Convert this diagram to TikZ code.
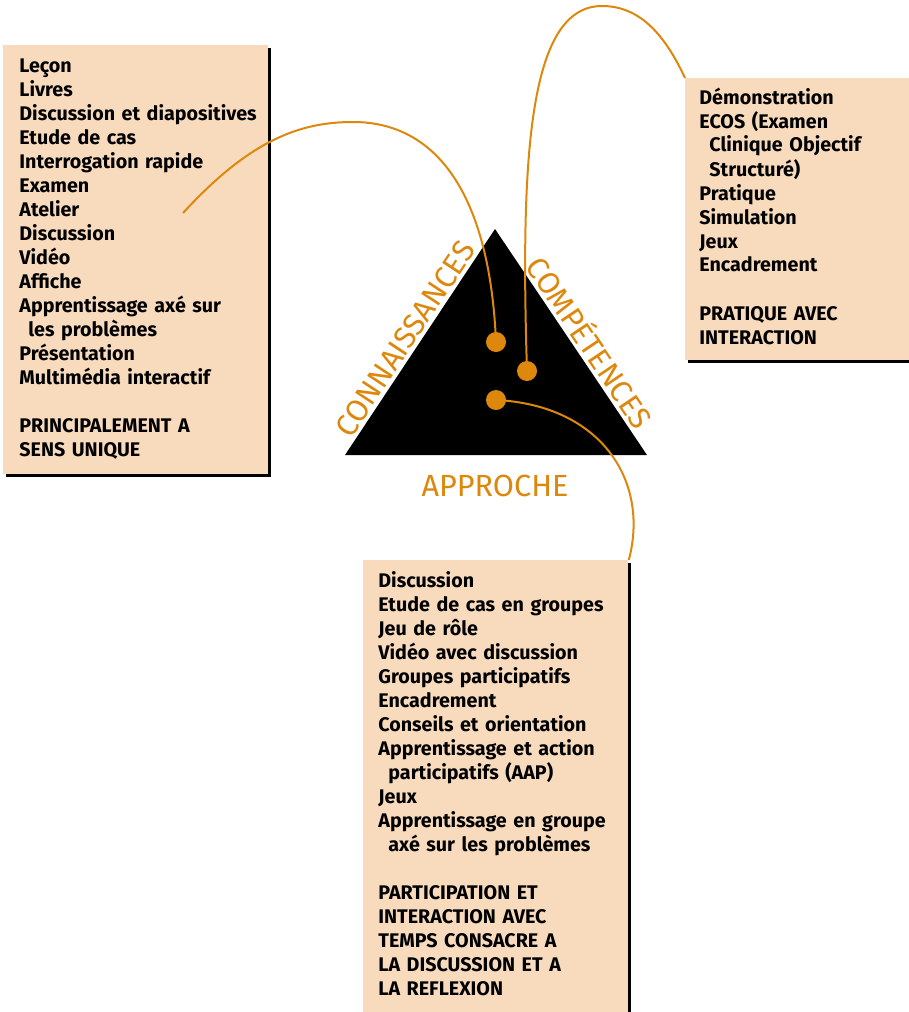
\documentclass[tikz,border=0pt]{standalone}
\usepackage{fontspec}
\setmainfont{Fira Sans}
\usetikzlibrary{shadows}

\definecolor{peach}{HTML}{F8DBBD}
\definecolor{amber}{HTML}{DD880C}

\tikzset{
  listbox/.style={fill=peach, anchor=north west, inner sep=0pt,
    drop shadow={shadow xshift=1.2pt, shadow yshift=-1.2pt, fill=black, opacity=1}},
  listtext/.style={anchor=base west, inner sep=0pt, align=left, text width=130pt,
    font=\fontsize{9.85}{12}\selectfont\bfseries},
  link/.style={draw=amber, line width=1pt},
  dot/.style={circle, fill=amber, inner sep=0pt, minimum size=10pt},
  side/.style={text=amber, inner sep=1.5pt, font=\fontsize{15.3}{18}\selectfont}
}

\begin{document}
\begin{tikzpicture}[x=0.5pt, y=-0.5pt]

\useasboundingbox (0,0) rectangle (909,1012);

%% boxes
\node[listbox, minimum width=132.5pt, minimum height=214.5pt] (lecture) at (3,45) {};
\node[listbox, minimum width=115pt, minimum height=141pt] (pratique) at (685,78) {};
\node[listbox, minimum width=132.5pt, minimum height=232pt] (groupe) at (363,560) {};

%% list texts
\node[listtext] (lecturetext) at (19,72) {Leçon\\ Livres\\ Discussion et diapositives\\
  Etude de cas\\ Interrogation rapide\\ Examen\\ Atelier\\ Discussion\\ Vidéo\\ Affiche\\
  Apprentissage axé sur\\ \hspace*{4.5pt}les problèmes\\ Présentation\\ Multimédia interactif\\[12pt]
  PRINCIPALEMENT A\\ SENS UNIQUE};
\node[listtext] (pratiquetext) at (699,104) {Démonstration\\ ECOS (Examen\\
  \hspace*{5pt}Clinique Objectif\\ \hspace*{5pt}Structuré)\\ Pratique\\ Simulation\\ Jeux\\
  Encadrement\\[12pt] PRATIQUE AVEC\\ INTERACTION};
\node[listtext] (groupetext) at (378,587) {Discussion\\ Etude de cas en groupes\\ Jeu de rôle\\
  Vidéo avec discussion\\ Groupes participatifs\\ Encadrement\\ Conseils et orientation\\
  Apprentissage et action\\ \hspace*{5pt}participatifs (AAP)\\ Jeux\\
  Apprentissage en groupe\\ \hspace*{5pt}axé sur les problèmes\\[12pt]
  PARTICIPATION ET\\ INTERACTION AVEC\\ TEMPS CONSACRE A\\ LA DISCUSSION ET A\\ LA REFLEXION};

%% triangle
\coordinate (top) at (495,229);
\coordinate (left) at (345,455);
\coordinate (right) at (647,455);
\fill[black] (left) -- (top) -- (right) -- cycle;

%% side labels
\path (left) -- (top) node[side, pos=0.48, sloped, above] (savoir) {CONNAISSANCES};
\path (top) -- (right) node[side, pos=0.54, sloped, above] (savoirfaire) {COMPÉTENCES};
\node[side] (approche) at (495,486) {APPROCHE};

%% links
\coordinate (kpt) at (496,342);
\coordinate (cpt) at (527,371);
\coordinate (apt) at (496,400);
\coordinate (lecstart) at (183,213);
\draw[link] (lecstart) .. controls (250,140) and (300,122) .. (353,122)
  .. controls (440,122) and (490,200) .. (kpt);
\draw[link] (pratique.north west) .. controls (665,35) and (640,6) .. (602,6)
  .. controls (530,6) and (520,150) .. (cpt);
\draw[link] (apt) .. controls (600,405) and (650,480) .. (groupe.north east);

%% dots
\node[dot] (kdot) at (kpt) {};
\node[dot] (cdot) at (cpt) {};
\node[dot] (adot) at (apt) {};

\end{tikzpicture}
\end{document}
